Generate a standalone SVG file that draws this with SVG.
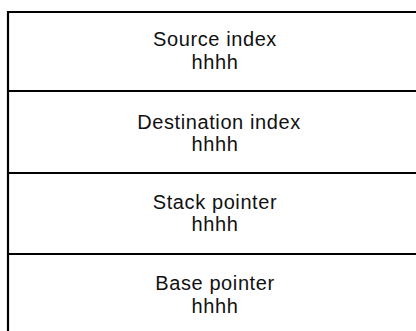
<svg xmlns="http://www.w3.org/2000/svg" width="416" height="331" viewBox="0 0 416 331">
<style>
.b{stroke:#000;stroke-width:2.2;fill:none}
.t{font-family:"Liberation Sans",Arial,sans-serif;font-size:20px;letter-spacing:0.6px;fill:#111;text-anchor:middle}
</style>
<rect width="416" height="331" fill="#fff"/>
<g id="frame"><line class="b" x1="8" y1="11" x2="8" y2="331"/></g>
<g id="source-index">
<line class="b" x1="7" y1="12" x2="416" y2="12"/>
<text class="t" x="215" y="46">Source index</text>
<text class="t" x="215" y="68.5">hhhh</text>
</g>
<g id="destination-index">
<line class="b" x1="7" y1="91" x2="416" y2="91"/>
<text class="t" x="219" y="128.5">Destination index</text>
<text class="t" x="215" y="151">hhhh</text>
</g>
<g id="stack-pointer">
<line class="b" x1="7" y1="173" x2="416" y2="173"/>
<text class="t" x="215" y="208.5">Stack pointer</text>
<text class="t" x="215" y="231">hhhh</text>
</g>
<g id="base-pointer">
<line class="b" x1="7" y1="254" x2="416" y2="254"/>
<text class="t" x="215" y="290">Base pointer</text>
<text class="t" x="215" y="313">hhhh</text>
</g>
</svg>
